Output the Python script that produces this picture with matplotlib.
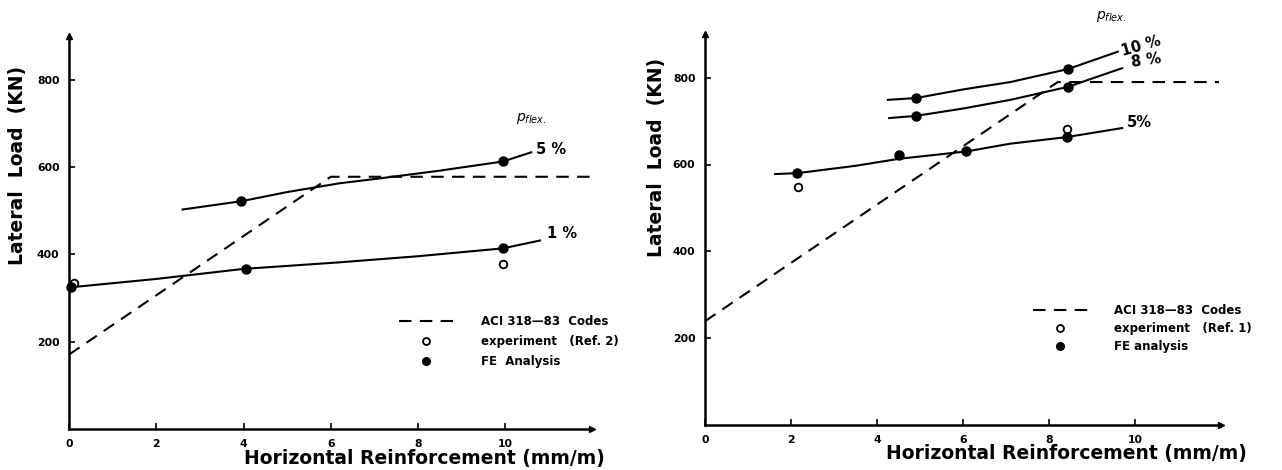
import matplotlib
matplotlib.use('Agg')
import matplotlib.pyplot as plt
from matplotlib.lines import Line2D

# ---- left panel (Ref. 2) ----
left_1pct_x = [0.05, 2.0, 4.0, 6.2, 8.0, 9.95, 10.8]
left_1pct_y = [325, 344, 367, 382, 396, 414, 432]
left_5pct_x = [2.6, 3.95, 5.0, 6.2, 7.1, 8.5, 9.95, 10.6]
left_5pct_y = [503, 522, 543, 563, 574, 592, 613, 634]
left_fe_x = [0.05, 4.05, 9.95, 3.95, 9.95]
left_fe_y = [325, 367, 414, 522, 613]
left_exp_x = [0.1, 9.95]
left_exp_y = [334, 378]
left_aci_x = [0, 6.0, 12.0]
left_aci_y = [171, 578, 578]

# ---- right panel (Ref. 1) ----
right_10pct_x = [4.25, 4.9, 6.0, 7.1, 8.44, 9.6]
right_10pct_y = [749, 753, 773, 790, 820, 860]
right_8pct_x = [4.28, 4.9, 6.0, 7.1, 8.44, 9.7]
right_8pct_y = [707, 712, 729, 749, 779, 822]
right_5pct_x = [1.63, 2.14, 3.5, 4.5, 6.07, 7.1, 8.4, 9.7]
right_5pct_y = [578, 580, 597, 613, 630, 648, 663, 684]
right_fe_x = [2.14, 4.51, 6.07, 8.42, 4.9, 8.44, 4.9, 8.44]
right_fe_y = [581, 622, 630, 663, 753, 820, 712, 779]
right_exp_x = [2.17, 8.42]
right_exp_y = [548, 682]
right_aci_x = [0, 8.2, 11.95]
right_aci_y = [239, 790, 790]

x_ticks = [0, 2, 4, 6, 8, 10]
y_ticks = [200, 400, 600, 800]

lw = 1.5
dash = (0, (6, 4))
bold = dict(fontweight='bold', color='black')


def setup_axes(ax, xlab_pos, ylab_pos):
    ax.set_xlim(0, 12)
    ax.set_ylim(0, 900)
    for side in ['top', 'right']:
        ax.spines[side].set_visible(False)
    for side in ['left', 'bottom']:
        ax.spines[side].set_linewidth(1.8)
    ax.plot(1, 0, '>k', ms=5, transform=ax.transAxes, clip_on=False)
    ax.plot(0, 1, '^k', ms=5, transform=ax.transAxes, clip_on=False)
    ax.set_xticks(x_ticks)
    ax.set_yticks(y_ticks)
    ax.tick_params(direction='in', length=4, width=1.2, labelsize=7.8, pad=7)
    for lab in ax.get_xticklabels() + ax.get_yticklabels():
        lab.set_fontweight('bold')
    ax.set_xlabel('Horizontal Reinforcement (mm/m)', fontsize=13.5, **bold)
    ax.xaxis.set_label_coords(*xlab_pos)
    ax.set_ylabel('Lateral  Load  (KN)', fontsize=13.5, **bold)
    ax.yaxis.set_label_coords(*ylab_pos)


def add_legend(ax, exp_label, fe_label, anchor, spacing, textpad):
    handles = [
        Line2D([], [], color='k', lw=lw, linestyle=dash),
        Line2D([], [], color='k', marker='o', ls='none', ms=5, mfc='white', mew=1.3),
        Line2D([], [], color='k', marker='o', ls='none', ms=5.5),
    ]
    labels = ['ACI 318—83  Codes', exp_label, fe_label]
    leg = ax.legend(handles, labels, loc='upper left', bbox_to_anchor=anchor,
                    frameon=False, borderpad=0, borderaxespad=0, handlelength=4.6,
                    handletextpad=textpad, labelspacing=spacing,
                    prop=dict(size=8.5, weight='bold'))
    return leg


fig = plt.figure(figsize=(12.82, 4.70), dpi=100)
fig.patch.set_facecolor('white')

# left panel
ax1 = fig.add_axes([0.054, 0.087, 0.408, 0.836])
setup_axes(ax1, (0.68, -0.05), (-0.08, 0.67))
ax1.plot(left_aci_x, left_aci_y, color='k', lw=lw, linestyle=dash)
ax1.plot(left_1pct_x, left_1pct_y, color='k', lw=lw)
ax1.plot(left_5pct_x, left_5pct_y, color='k', lw=lw)
ax1.plot(left_exp_x, left_exp_y, 'o', color='k', mfc='white', ms=5.5, mew=1.3, clip_on=False)
ax1.plot(left_fe_x, left_fe_y, 'o', color='k', ms=6.5, clip_on=False)
ax1.text(10.25, 705, r'$p_{flex.}$', fontsize=10, **bold)
ax1.text(10.7, 641, '5 %', fontsize=10.5, va='center', **bold)
ax1.text(10.95, 448, '1 %', fontsize=10.5, va='center', **bold)
add_legend(ax1, 'experiment   (Ref. 2)', 'FE  Analysis', (0.63, 0.29), 0.6, 2.4)

# right panel
ax2 = fig.add_axes([0.55, 0.096, 0.4025, 0.831])
setup_axes(ax2, (0.70, -0.05), (-0.075, 0.685))
ax2.plot(right_aci_x, right_aci_y, color='k', lw=lw, linestyle=dash)
ax2.plot(right_10pct_x, right_10pct_y, color='k', lw=lw)
ax2.plot(right_8pct_x, right_8pct_y, color='k', lw=lw)
ax2.plot(right_5pct_x, right_5pct_y, color='k', lw=lw)
ax2.plot(right_exp_x, right_exp_y, 'o', color='k', mfc='white', ms=5.5, mew=1.3)
ax2.plot(right_fe_x, right_fe_y, 'o', color='k', ms=6.5)
ax2.text(9.1, 935, r'$p_{flex.}$', fontsize=10, clip_on=False, **bold)
ax2.text(9.65, 872, '10 %', fontsize=10.5, va='center', rotation=16, **bold)
ax2.text(9.9, 840, '8 %', fontsize=10.5, va='center', rotation=8, **bold)
ax2.text(9.8, 697, '5%', fontsize=10.5, va='center', **bold)
add_legend(ax2, 'experiment   (Ref. 1)', 'FE analysis', (0.636, 0.31), 0.45, 2.2)

fig.savefig('out.png', dpi=100)
